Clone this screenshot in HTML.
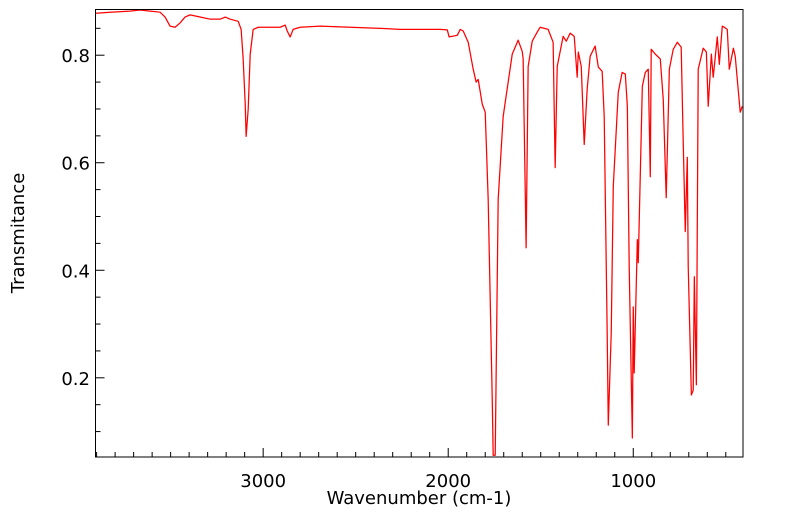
<!DOCTYPE html>
<html><head><meta charset="utf-8"><style>
html,body{margin:0;padding:0;background:#fff;}
svg{display:block;font-family:"DejaVu Sans","Liberation Sans",sans-serif;}
</style></head><body>
<svg id="chart" width="799" height="516" viewBox="0 0 799 516" xmlns="http://www.w3.org/2000/svg">
<g id="ticks"></g>
<path id="series" fill="none" stroke="#ff0000" stroke-width="1.25" stroke-linejoin="round"/>
<rect x="95.5" y="9.5" width="647.5" height="447.5" fill="none" stroke="#000" stroke-width="1"/>
<text x="419" y="504" font-size="18" text-anchor="middle">Wavenumber (cm-1)</text>
<text transform="translate(24,233) rotate(-90)" font-size="18" text-anchor="middle">Transmitance</text>
</svg>
<script>
const wavenumbers=[3903,3827,3719,3665,3611,3557,3530,3503,3476,3449,3422,3395,3341,3286,3232,3205,3178,3135,3119,3108,3097,3092,3081,3070,3054,3027,2962,2908,2881,2870,2854,2838,2800,2692,2530,2368,2259,2151,2043,2005,1995,1951,1935,1919,1892,1865,1849,1838,1816,1800,1784,1762,1757,1746,1730,1703,1654,1622,1600,1595,1579,1568,1546,1519,1503,1460,1433,1422,1411,1379,1362,1341,1319,1303,1297,1281,1265,1249,1233,1206,1189,1168,1157,1141,1135,1119,1108,1081,1060,1043,1032,1022,1005,1000,995,978,973,951,935,919,908,903,881,854,838,822,805,784,762,741,730,719,708,703,686,676,670,659,649,622,605,595,578,568,546,535,519,508,492,481,459,449,422,411];
const transmittance=[.878,.880,.882,.884,.882,.880,.871,.854,.852,.860,.871,.875,.871,.867,.867,.871,.867,.863,.848,.793,.709,.649,.699,.802,.848,.852,.852,.852,.856,.845,.834,.848,.852,.854,.852,.850,.848,.848,.848,.847,.834,.837,.848,.845,.824,.774,.750,.755,.709,.694,.532,.159,.056,.056,.532,.686,.802,.828,.807,.793,.442,.779,.826,.843,.852,.848,.824,.591,.779,.835,.826,.841,.835,.759,.806,.779,.634,.737,.798,.817,.778,.770,.686,.284,.112,.284,.556,.731,.768,.765,.705,.407,.088,.332,.209,.457,.414,.742,.768,.774,.574,.811,.802,.793,.718,.535,.774,.811,.824,.815,.638,.472,.610,.407,.168,.177,.388,.187,.774,.813,.806,.705,.802,.759,.834,.783,.854,.852,.848,.774,.813,.798,.694,.705];
const xTickLabels=[3000,2000,1000];
const yTickLabels=[0.2,0.4,0.6,0.8];
const X0=95.5,X1=743,Y0=9.5,Y1=457;
const xMax=3906,xMin=407,yMin=0.0527,yMax=0.885;
function xs(v){return X0+(xMax-v)/(xMax-xMin)*(X1-X0);}
function ys(v){return Y1-(v-yMin)/(yMax-yMin)*(Y1-Y0);}
const NS="http://www.w3.org/2000/svg";
let d="";
for(let i=0;i<wavenumbers.length;i++){d+=(i?"L":"M")+xs(wavenumbers[i]).toFixed(2)+","+ys(transmittance[i]).toFixed(2);}
document.getElementById("series").setAttribute("d",d);
const g=document.getElementById("ticks");
function line(x1,y1,x2,y2,name){const l=document.createElementNS(NS,"line");
l.setAttribute("x1",x1);l.setAttribute("y1",y1);l.setAttribute("x2",x2);l.setAttribute("y2",y2);
l.setAttribute("stroke","#000");l.setAttribute("stroke-width","1");


g.appendChild(l);}
function text(x,y,s,anchor,name){const t=document.createElementNS(NS,"text");
t.setAttribute("x",x);t.setAttribute("y",y);t.setAttribute("font-size","18");t.setAttribute("text-anchor",anchor);t.textContent=s;


g.appendChild(t);}
for(let v=500;v<=3900;v+=100){const x=xs(v);if(x<X0||x>X1)continue;const major=v%1000===0;line(x,Y1,x,Y1-(major?9:5),major?"x-major-tick":"x-minor-tick");}
xTickLabels.forEach(v=>text(xs(v),487,String(v),"middle","x-tick-label"));
for(let k=1;k<=17;k++){const v=k*0.05;const y=ys(v);if(y<Y0||y>Y1)continue;const major=k%4===0;line(X0,y,X0+(major?9:5),y,major?"y-major-tick":"y-minor-tick");}
yTickLabels.forEach(v=>text(90,ys(v)+7,v.toFixed(1),"end","y-tick-label"));
</script>
</body></html>
